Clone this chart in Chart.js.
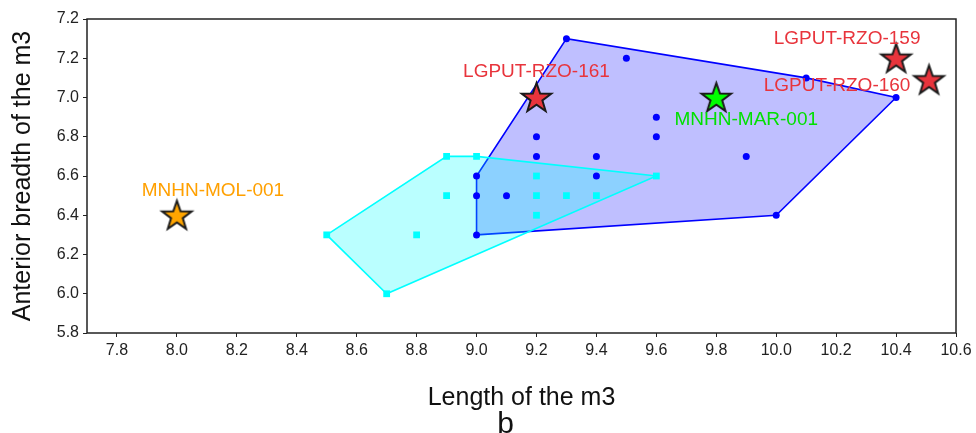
<!DOCTYPE html>
<html>
<head>
<meta charset="utf-8">
<script src="https://cdn.jsdelivr.net/npm/chart.js@4"></script>
<style>
html, body { margin: 0; padding: 0; background: #fff; }
#wrap { width: 976px; height: 433px; }
</style>
</head>
<body>
<div id="wrap"><canvas id="chart" width="976" height="433"></canvas></div>
<script>
// Eixos
const xTicks = [7.8, 8.0, 8.2, 8.4, 8.6, 8.8, 9.0, 9.2, 9.4, 9.6, 9.8, 10.0, 10.2, 10.4, 10.6];
const xTickLabels = ['7.8', '8.0', '8.2', '8.4', '8.6', '8.8', '9.0', '9.2', '9.4', '9.6', '9.8', '10.0', '10.2', '10.4', '10.6'];
const yTicks = [5.8, 6.0, 6.2, 6.4, 6.6, 6.8, 7.0, 7.2, 7.4];
const yTickLabels = ['5.8', '6.0', '6.2', '6.4', '6.6', '6.8', '7.0', '7.2', '7.2'];

// Grupo azul (circulos)
const blueX = [9.3, 9.5, 10.1, 10.4, 9.6, 9.6, 9.2, 9.2, 9.4, 9.9, 9.0, 9.4, 9.0, 9.1, 9.0, 10.0];
const blueY = [7.3, 7.2, 7.1, 7.0, 6.9, 6.8, 6.8, 6.7, 6.7, 6.7, 6.6, 6.6, 6.5, 6.5, 6.3, 6.4];

// Grupo ciano (quadrados)
const cyanX = [8.9, 9.0, 9.6, 9.2, 8.9, 9.2, 9.3, 9.4, 9.2, 8.5, 8.8, 8.7];
const cyanY = [6.7, 6.7, 6.6, 6.6, 6.5, 6.5, 6.5, 6.5, 6.4, 6.3, 6.3, 6.0];

// Especimes (estrelas)
const specimenNames = ['MNHN-MOL-001', 'LGPUT-RZO-161', 'MNHN-MAR-001', 'LGPUT-RZO-159', 'LGPUT-RZO-160'];
const specimenX = [8.0, 9.2, 9.8, 10.4, 10.51];
const specimenY = [6.4, 7.0, 7.0, 7.2, 7.09];

// estilos das estrelas e rotulos
const starColors = ['#FFA500', '#E8343C', '#00FF00', '#E8343C', '#E8343C'];
const labelColors = ['#FFA000', '#E8343C', '#00E000', '#E8343C', '#E8343C'];
const labelOffsets = [[36, -24], [0, -26], [30, 22], [-49, -19], [-92, 6]];

const FONT = '"Liberation Sans", Arial, sans-serif';
Chart.defaults.font.family = FONT;

function toPoints(xs, ys) {
    return xs.map((x, i) => ({ x: x, y: ys[i] }));
}

// envoltoria convexa (monotone chain)
function convexHull(xs, ys) {
    const pts = toPoints(xs, ys).sort((a, b) => a.x - b.x || a.y - b.y);
    const cross = (o, a, b) => (a.x - o.x) * (b.y - o.y) - (a.y - o.y) * (b.x - o.x);
    const lower = [];
    for (const p of pts) {
        while (lower.length >= 2 && cross(lower[lower.length - 2], lower[lower.length - 1], p) <= 1e-12) lower.pop();
        lower.push(p);
    }
    const upper = [];
    for (const p of pts.slice().reverse()) {
        while (upper.length >= 2 && cross(upper[upper.length - 2], upper[upper.length - 1], p) <= 1e-12) upper.pop();
        upper.push(p);
    }
    lower.pop();
    upper.pop();
    const hull = lower.concat(upper);
    hull.push(hull[0]);
    return hull;
}

function makeStar(fill) {
    const R = 15.5, r = 6.2, size = 2 * R + 6;
    const c = document.createElement('canvas');
    c.width = size;
    c.height = size;
    const g = c.getContext('2d');
    const cx = size / 2, cy = size / 2 + 1;
    g.beginPath();
    for (let i = 0; i < 10; i++) {
        const a = -Math.PI / 2 + i * Math.PI / 5;
        const rad = i % 2 ? r : R;
        g.lineTo(cx + rad * Math.cos(a), cy + rad * Math.sin(a));
    }
    g.closePath();
    g.fillStyle = fill;
    g.fill();
    g.lineWidth = 2;
    g.strokeStyle = '#1a1a1a';
    g.stroke();
    return c;
}

// moldura completa em volta da area do grafico
const framePlugin = {
    id: 'frame',
    afterDraw(chart) {
        const { ctx, chartArea: a } = chart;
        ctx.save();
        ctx.strokeStyle = '#222';
        ctx.lineWidth = 1.5;
        ctx.strokeRect(a.left, a.top, a.right - a.left, a.bottom - a.top);
        ctx.restore();
    }
};

// rotulos dos especimes e a letra "b"
const labelPlugin = {
    id: 'specimenLabels',
    afterDatasetsDraw(chart) {
        const { ctx, scales: { x, y } } = chart;
        ctx.save();
        ctx.font = '19px ' + FONT;
        ctx.textAlign = 'center';
        ctx.textBaseline = 'middle';
        specimenNames.forEach((name, i) => {
            ctx.fillStyle = labelColors[i];
            ctx.fillText(name,
                x.getPixelForValue(specimenX[i]) + labelOffsets[i][0],
                y.getPixelForValue(specimenY[i]) + labelOffsets[i][1]);
        });
        ctx.restore();
    },
    afterDraw(chart) {
        const { ctx, chartArea: a } = chart;
        ctx.save();
        ctx.font = '30px ' + FONT;
        ctx.fillStyle = '#111';
        ctx.textAlign = 'center';
        ctx.textBaseline = 'alphabetic';
        ctx.fillText('b', (a.left + a.right) / 2 - 16, chart.height);
        ctx.restore();
    }
};

const blueHull = convexHull(blueX, blueY);
const cyanHull = convexHull(cyanX, cyanY);

const ctx = document.getElementById('chart').getContext('2d');
const myChart = new Chart(ctx, {
    type: 'scatter',
    data: {
        datasets: [
            {
                label: 'blue hull',
                data: blueHull,
                showLine: true,
                fill: 'shape',
                backgroundColor: 'rgba(0,0,255,0.25)',
                borderColor: '#0000FF',
                borderWidth: 1.6,
                pointRadius: 0,
                order: 10
            },
            {
                label: 'cyan hull',
                data: cyanHull,
                showLine: true,
                fill: 'shape',
                backgroundColor: 'rgba(0,255,255,0.27)',
                borderColor: '#00FFFF',
                borderWidth: 1.6,
                pointRadius: 0,
                order: 9
            },
            {
                label: 'blue',
                data: toPoints(blueX, blueY),
                pointStyle: 'circle',
                pointRadius: 3.5,
                backgroundColor: '#0000FF',
                borderWidth: 0,
                order: 5
            },
            {
                label: 'cyan',
                data: toPoints(cyanX, cyanY),
                pointStyle: 'rect',
                pointRadius: 4.8,
                backgroundColor: '#00FFFF',
                borderWidth: 0,
                order: 4
            },
            {
                label: 'specimens',
                data: toPoints(specimenX, specimenY),
                pointStyle: starColors.map(makeStar),
                pointRadius: 15,
                order: 1
            }
        ]
    },
    options: {
        responsive: false,
        animation: false,
        events: [],
        layout: { padding: { top: 19, right: 20, left: 0, bottom: 0 } },
        plugins: {
            legend: { display: false },
            tooltip: { enabled: false }
        },
        scales: {
            x: {
                type: 'linear',
                min: 7.7,
                max: 10.6,
                afterBuildTicks: s => { s.ticks = xTicks.map(v => ({ value: v })); },
                afterFit: s => { s.height = 100; },
                border: { display: false },
                grid: { display: true, drawOnChartArea: false, drawTicks: true, tickLength: 4, color: '#222' },
                ticks: {
                    autoSkip: false,
                    maxRotation: 0,
                    padding: 4,
                    color: '#222',
                    font: { size: 16 },
                    callback: (v, i) => xTickLabels[i]
                },
                title: {
                    display: true,
                    text: 'Length of the m3',
                    color: '#111',
                    font: { size: 25 },
                    padding: { top: 0, bottom: 20 }
                }
            },
            y: {
                type: 'linear',
                min: 5.8,
                max: 7.4,
                afterBuildTicks: s => { s.ticks = yTicks.map(v => ({ value: v })); },
                afterFit: s => { s.width = 87; },
                border: { display: false },
                grid: { display: true, drawOnChartArea: false, drawTicks: true, tickLength: 4, color: '#222' },
                ticks: {
                    autoSkip: false,
                    padding: 4,
                    color: '#222',
                    font: { size: 16 },
                    callback: (v, i) => yTickLabels[i]
                },
                title: {
                    display: true,
                    text: 'Anterior breadth of the m3',
                    color: '#111',
                    font: { size: 25 },
                    padding: { top: 8, bottom: 0 }
                }
            }
        }
    },
    plugins: [framePlugin, labelPlugin]
});
</script>
</body>
</html>
